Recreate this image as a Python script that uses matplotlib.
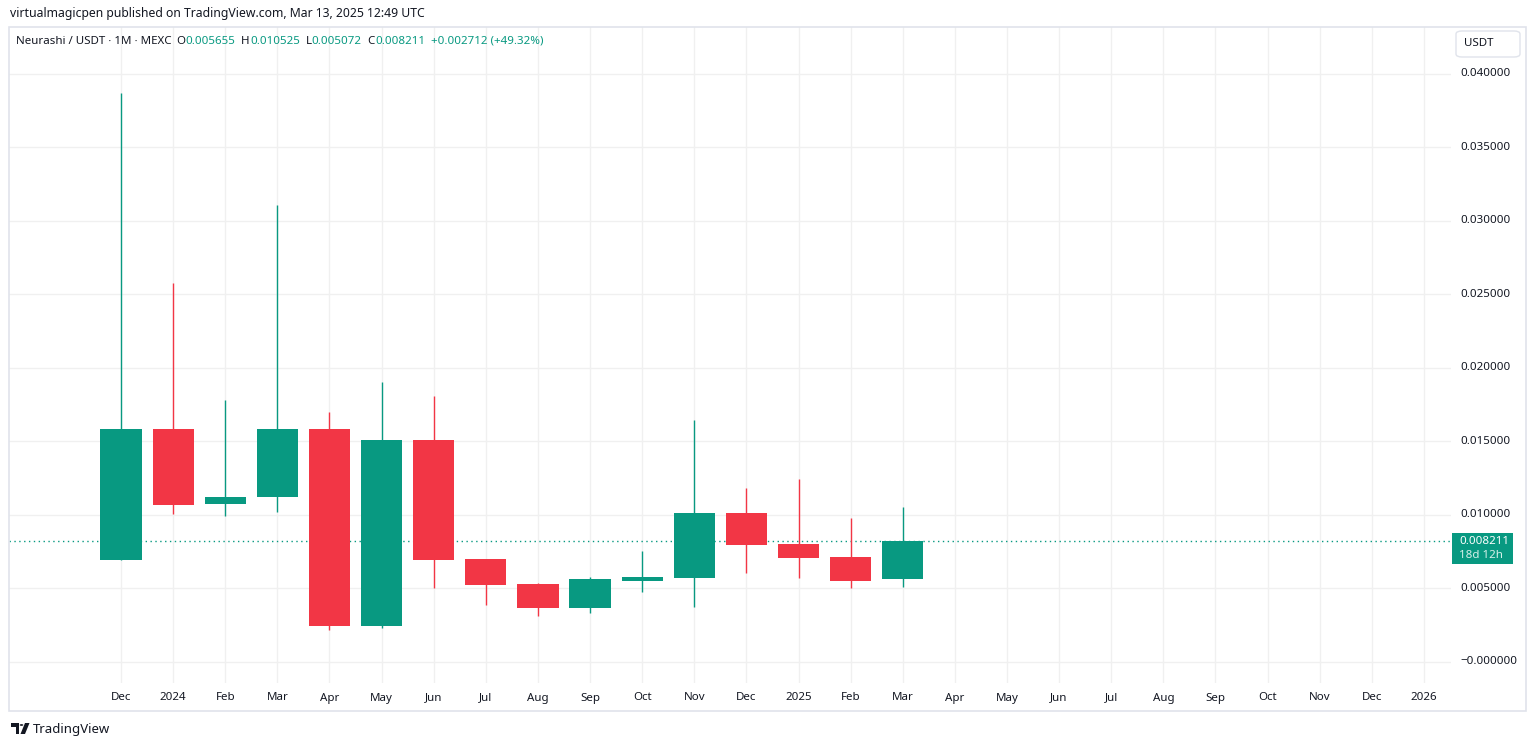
"""
Neurashi / USDT monthly candles, TradingView style
"""
import numpy as np
import matplotlib.pyplot as plt
from matplotlib.patches import Rectangle, FancyBboxPatch, Polygon, Circle

plt.rcParams["font.family"] = ["Noto Sans", "DejaVu Sans"]

# month labels along the time axis (Dec 2023 .. 2026)
MONTH_LABELS = ["Dec", "2024", "Feb", "Mar", "Apr", "May", "Jun", "Jul", "Aug",
                "Sep", "Oct", "Nov", "Dec", "2025", "Feb", "Mar", "Apr", "May",
                "Jun", "Jul", "Aug", "Sep", "Oct", "Nov", "Dec", "2026"]
YEAR_LABELS = {"2024", "2025", "2026"}

# OHLC values, Dec 2023 .. Mar 2025
opens = [0.00693, 0.01584, 0.01071, 0.01121, 0.01584, 0.00244, 0.01509, 0.00700,
         0.00529, 0.00366, 0.00553, 0.00573, 0.01014, 0.00802, 0.00714, 0.005655]
highs = [0.03868, 0.02577, 0.01781, 0.03107, 0.01699, 0.01903, 0.01808, 0.00700,
         0.00539, 0.00580, 0.00754, 0.01645, 0.01182, 0.01243, 0.00978, 0.010525]
lows = [0.00693, 0.01005, 0.00992, 0.01019, 0.00216, 0.00232, 0.00502, 0.00387,
        0.00315, 0.00329, 0.00478, 0.00373, 0.00601, 0.00573, 0.00502, 0.005072]
closes = [0.01584, 0.01067, 0.01121, 0.01584, 0.00244, 0.01509, 0.00693, 0.00523,
          0.00366, 0.00560, 0.00580, 0.01014, 0.00795, 0.00707, 0.00550, 0.008211]

Y_TICKS = [0.0, 0.005, 0.010, 0.015, 0.020, 0.025, 0.030, 0.035, 0.040]
Y_TICK_LABELS = ["\u22120.000000", "0.005000", "0.010000", "0.015000", "0.020000",
                 "0.025000", "0.030000", "0.035000", "0.040000"]

LAST_PRICE = 0.008211

GREEN = "#089981"
RED = "#F23645"
TEXT = "#131722"
GRID = "#f0f0f0"
BORDER = "#e0e3eb"

W, H = 1535, 747
fig = plt.figure(figsize=(W / 100, H / 100), dpi=100)
fig.patch.set_facecolor("white")


def fx(px):
    return px / W


def fy(py):
    return 1 - py / H


# plot area in pixels: x 9..1451, y 27..683
ax = fig.add_axes([fx(9), fy(683), fx(1451 - 9), (683 - 27) / H])
ax.set_facecolor("white")

x = np.arange(len(opens))
o = np.array(opens)
c = np.array(closes)
up = c >= o
colors = np.where(up, GREEN, RED)

# wicks
ax.vlines(x, lows, highs, colors=colors, linewidth=1.0, zorder=3)
# bodies
body_bottom = np.minimum(o, c)
body_height = np.maximum(np.abs(c - o), 0.00007)
ax.bar(x, body_height, bottom=body_bottom, width=0.79, color=colors,
       linewidth=0, zorder=4)

# last price dotted line
ax.axhline(LAST_PRICE, color=GREEN, linestyle=(0, (1, 2.5)), linewidth=1.0, zorder=2)

ax.set_xlim(-2.149, 25.52)
ax.set_ylim(-0.00144, 0.04318)

ax.set_yticks(Y_TICKS)
ax.set_xticks(np.arange(len(MONTH_LABELS)))
ax.grid(True, color=GRID, linewidth=1.0, zorder=0)
ax.set_axisbelow(True)
ax.tick_params(left=False, bottom=False, right=False, labelleft=False,
               labelbottom=False)
for s in ax.spines.values():
    s.set_visible(False)

# price axis labels
for v, lab in zip(Y_TICKS, Y_TICK_LABELS):
    ax.annotate(lab, xy=(1, v), xycoords=("axes fraction", "data"),
                xytext=(9, 0), textcoords="offset pixels", ha="left", va="center",
                fontsize=8.3, color=TEXT, annotation_clip=False)

# time axis labels
for i, lab in enumerate(MONTH_LABELS):
    ax.annotate(lab, xy=(i, 0), xycoords=("data", "axes fraction"),
                xytext=(0, -15), textcoords="offset pixels", ha="center", va="center",
                fontsize=8.3, color=TEXT,
                fontweight="bold" if lab in YEAR_LABELS else "normal",
                annotation_clip=False)

# last price tag on price axis
fig.patches.append(Rectangle((fx(1452), fy(564)), fx(1513 - 1452), (564 - 533) / H,
                             transform=fig.transFigure, facecolor=GREEN,
                             edgecolor="none", zorder=5))
fig.text(fx(1459), fy(541), "0.008211", color="white", fontsize=8.3,
         fontweight="bold", ha="left", va="center", zorder=6)
fig.text(fx(1459), fy(555), "18d 12h", color="#d6f0ea", fontsize=8.3,
         ha="left", va="center", zorder=6)

# outer chart frame
fig.patches.append(Rectangle((fx(9), fy(711)), fx(1526 - 9), (711 - 27) / H,
                             transform=fig.transFigure, facecolor="none",
                             edgecolor=BORDER, linewidth=1.2, zorder=1))

# currency button
fig.patches.append(FancyBboxPatch((fx(1456), fy(57)), fx(1520 - 1456), (57 - 31) / H,
                                  boxstyle="round,pad=0,rounding_size=0.004",
                                  transform=fig.transFigure, facecolor="white",
                                  edgecolor=BORDER, linewidth=1.0, zorder=5))
fig.text(fx(1464), fy(44), "USDT", color=TEXT, fontsize=8.3, ha="left",
         va="center", zorder=6)

# header
fig.text(fx(10), fy(14), "virtualmagicpen published on TradingView.com, Mar 13, 2025 12:49 UTC",
         color=TEXT, fontsize=8.8, ha="left", va="center")

# legend line, pieces placed one after another (gap in pixels before each piece)
legend_parts = [
    (0, "Neurashi / USDT \u00b7 1M \u00b7 MEXC", TEXT),
    (5, "O", TEXT), (0, "0.005655", GREEN),
    (6, "H", TEXT), (0, "0.010525", GREEN),
    (6, "L", TEXT), (0, "0.005072", GREEN),
    (6, "C", TEXT), (0, "0.008211", GREEN),
    (6, "+0.002712 (+49.32%)", GREEN),
]
renderer = fig.canvas.get_renderer()
cur = 16
for gap, txt, col in legend_parts:
    cur += gap
    t = fig.text(fx(cur), fy(41), txt, color=col, fontsize=8.3, ha="left", va="center")
    cur += t.get_window_extent(renderer=renderer).width

# TradingView footer logo
logo_col = "#131722"
fig.patches.append(Polygon([(fx(11), fy(723)), (fx(19), fy(723)), (fx(19), fy(734)),
                            (fx(15.5), fy(734)), (fx(15.5), fy(726.5)), (fx(11), fy(726.5))],
                           closed=True, transform=fig.transFigure, facecolor=logo_col,
                           edgecolor="none"))
fig.patches.append(Circle((fx(21.5), fy(725)), 1.8 / W, transform=fig.transFigure,
                          facecolor=logo_col, edgecolor="none"))
fig.patches.append(Polygon([(fx(25), fy(723)), (fx(29.5), fy(723)), (fx(25), fy(734)),
                            (fx(20.5), fy(734))],
                           closed=True, transform=fig.transFigure, facecolor=logo_col,
                           edgecolor="none"))
fig.text(fx(33), fy(729), "TradingView", color=TEXT, fontsize=9.5, ha="left",
         va="center")

fig.savefig("out.png", dpi=100, facecolor="white")
